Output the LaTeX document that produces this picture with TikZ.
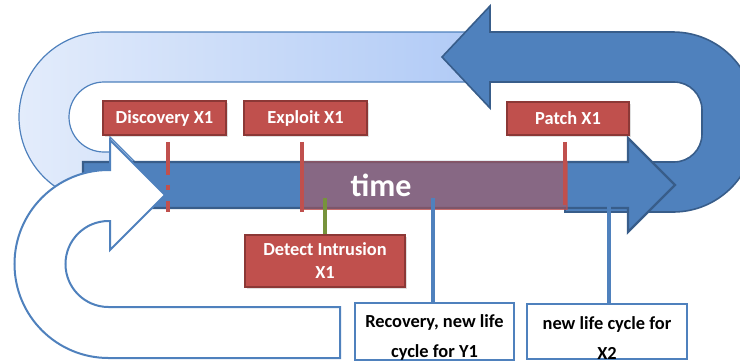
\documentclass[tikz,border=0pt]{standalone}
\usepackage{fontspec}
\setmainfont{Carlito}
\usepackage{xcolor}
\usepackage{tikz}
\tikzset{>=latex}
\usetikzlibrary{
    shadows, % sombras nos rótulos
    calc % cálculos de coordenadas
}
\definecolor{arrowblue}{HTML}{4F81BD}
\definecolor{arrowedge}{HTML}{385D8A}
\definecolor{paleleft}{HTML}{E3ECFB}
\definecolor{paleright}{HTML}{B0CAF6}
\definecolor{eventred}{HTML}{C0504D}
\definecolor{eventedge}{HTML}{8C3836}
\definecolor{detectgreen}{HTML}{77933C}

\begin{document}
\begin{tikzpicture}[x=0.5pt,y=-0.5pt]
    \clip (0,0) rectangle (740,361);
    % styles
    \tikzstyle{event} = [rectangle, fill=eventred, draw=eventedge, line width=0.8pt, text=white,
                         font=\fontsize{9.2}{11.5}\selectfont\bfseries, align=center, inner sep=0pt,
                         drop shadow={opacity=0.25, shadow xshift=1pt, shadow yshift=-1pt}]
    \tikzstyle{note}  = [rectangle, fill=white, draw=arrowblue, line width=1pt, text=black,
                         font=\fontsize{9.2}{15}\selectfont\bfseries, align=center, inner sep=0pt,
                         text height=27.5pt, minimum width=80pt, minimum height=26.5pt]
    \tikzstyle{bigarrow} = [fill=arrowblue, draw=arrowedge, line width=0.8pt]
    \tikzstyle{tickline} = [draw=eventred, line width=1.7pt, shorten <=3pt]
    \tikzstyle{leadline} = [draw=arrowblue, line width=2pt]

    % pale loop coming back to the start
    \draw[left color=paleleft, right color=paleright, draw=arrowblue, line width=0.6pt]
      (480,82) -- (104,82) arc[start angle=270, end angle=90, radius=35]
      -- (110,152) -- (110,137) -- (150,177) -- (110,217) -- (110,202) -- (104,202)
      arc[start angle=90, end angle=270, radius=85] -- (480,32) -- cycle;
    % dark u-turn on the right
    \draw[bigarrow]
      (490,82) -- (674,82) arc[start angle=270, end angle=360, radius=28]
      -- (702,134) arc[start angle=0, end angle=90, radius=28]
      -- (565,162) -- (565,212) -- (673,212) arc[start angle=90, end angle=0, radius=82]
      -- (755,114) arc[start angle=0, end angle=-90, radius=82]
      -- (490,32) -- (490,6) -- (442,57) -- (490,108) -- cycle;
    % time line
    \draw[bigarrow, line width=1.2pt]
      (83,162) -- (628,162) -- (628,138) -- (675,185) -- (628,232) -- (628,208) -- (83,208) -- cycle;
    \node[rectangle, fill=eventred, fill opacity=0.5, draw=eventred, draw opacity=0.6,
          line width=0.6pt, minimum width=132pt, minimum height=24pt, inner sep=0pt]
      (window) at (435,185.5) {};
    \node[text=white, font=\fontsize{16}{18}\selectfont\bfseries] (time) at (381,185) {time};
    % white loop at the bottom
    \draw[fill=white, draw=arrowblue, line width=1pt]
      (110,170) -- (110,140) -- (165,195) -- (110,250) -- (110,221) -- (108.5,221)
      arc[start angle=270, end angle=90, radius=43]
      -- (340,307) -- (340,358) -- (108.5,358)
      arc[start angle=90, end angle=270, radius=94] -- cycle;

    % events
    \node[event, minimum width=61.5pt, minimum height=17pt] (disc)    at (164.5,118) {Discovery X1};
    \node[event, minimum width=61.5pt, minimum height=17pt] (exploit) at (305.5,118) {Exploit X1};
    \node[event, minimum width=61pt, minimum height=16.5pt] (patch)   at (568,118.5) {Patch X1};
    \node[event, minimum width=80pt, minimum height=26pt]   (detect)  at (325,261) {Detect Intrusion\\X1};
    \coordinate (discEnd)    at (168,212);
    \coordinate (exploitEnd) at (302,212);
    \coordinate (patchEnd)   at (565,205);
    \coordinate (detectTop)  at (325,198);
    \draw[tickline, dash pattern=on 16.5pt off 5pt on 2.5pt off 5.5pt on 6.5pt]
      (disc.south -| discEnd) -- (discEnd);
    \draw[tickline] (exploit.south -| exploitEnd) -- (exploitEnd);
    \draw[tickline] (patch.south -| patchEnd) -- (patchEnd);
    \draw[draw=detectgreen, line width=1.7pt] (detect.north) -- (detectTop);

    % notes below
    \node[note, minimum width=79.5pt] (recovery) at (434.5,331.5) {Recovery, new life\\cycle for Y1};
    \node[note] (nextcycle) at (607,331.5) {new life cycle for\\X2};
    \coordinate (recoveryTop) at (433,198);
    \coordinate (nextTop)     at (609,193);
    \draw[leadline] (recovery.north -| recoveryTop) -- (recoveryTop);
    \draw[leadline] (nextcycle.north -| nextTop) -- (nextTop);
\end{tikzpicture}
\end{document}
